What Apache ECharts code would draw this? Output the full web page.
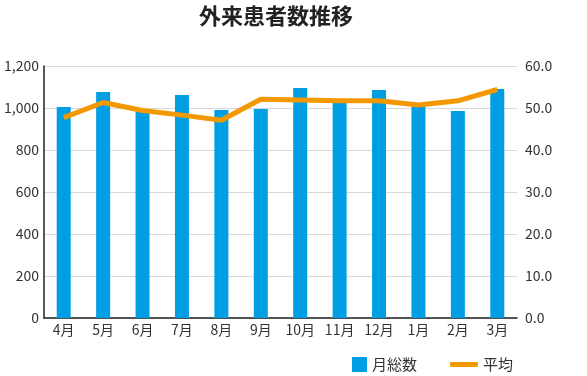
<!DOCTYPE html>
<html><head><meta charset="utf-8">
<script src="https://cdn.jsdelivr.net/npm/echarts@6/dist/echarts.min.js"></script>
<style>html,body{margin:0;padding:0;background:#fff}#c{width:587px;height:376px}</style>
</head><body><div id="c"></div>
<script>
const categories = ['4月','5月','6月','7月','8月','9月','10月','11月','12月','1月','2月','3月'];
const monthlyTotal = [1005, 1076, 985, 1062, 990, 995, 1095, 1025, 1086, 1014, 986, 1090];
const average = [47.7, 51.3, 49.4, 48.3, 47.1, 52.1, 51.9, 51.7, 51.7, 50.7, 51.7, 54.4];
const leftTicks = [0, 1200, 200];
const rightTicks = [0, 60, 10];

const font = '"Noto Sans CJK JP", "Noto Sans", sans-serif';
const chart = echarts.init(document.getElementById('c'));
chart.setOption({
  animation: false,
  textStyle: { fontFamily: font },
  title: { text: '外来患者数推移', left: 199, top: 5, padding: 0,
    textStyle: { fontSize: 22, fontWeight: 'bold', color: '#222', fontFamily: font } },
  legend: [
    { data: [{ name: '月総数', icon: 'rect' }], left: 352, top: 357, padding: 0, itemWidth: 15, itemHeight: 15, itemGap: 4,
      textStyle: { fontSize: 15, color: '#333', fontFamily: font } },
    { data: [{ name: '平均', icon: 'roundRect' }], left: 450, top: 357, padding: 0, itemWidth: 28, itemHeight: 5, itemGap: 2,
      textStyle: { fontSize: 15, color: '#333', fontFamily: font } }
  ],
  grid: { left: 44, right: 70, top: 66, bottom: 58, containLabel: false },
  xAxis: {
    type: 'category', data: categories,
    axisLine: { lineStyle: { color: '#222', width: 1.5 } },
    axisTick: { show: false },
    axisLabel: { fontSize: 14, color: '#333', margin: 5, fontFamily: font }
  },
  yAxis: [
    { type: 'value', min: leftTicks[0], max: leftTicks[1], interval: leftTicks[2],
      axisLine: { show: true, lineStyle: { color: '#222', width: 1.5 } },
      axisTick: { show: false },
      splitLine: { lineStyle: { color: '#d9d9d9' } },
      axisLabel: { fontSize: 14, color: '#333', margin: 5, fontFamily: font,
        formatter: v => v.toLocaleString('en-US') } },
    { type: 'value', min: rightTicks[0], max: rightTicks[1], interval: rightTicks[2],
      axisLine: { show: false }, axisTick: { show: false },
      splitLine: { show: false },
      axisLabel: { fontSize: 14, color: '#333', margin: 8, fontFamily: font,
        formatter: v => v.toFixed(1) } }
  ],
  series: [
    { name: '月総数', type: 'bar', data: monthlyTotal, barWidth: 14, yAxisIndex: 0,
      itemStyle: { color: '#009fe3' } },
    { name: '平均', type: 'line', data: average, yAxisIndex: 1, symbol: 'none',
      lineStyle: { color: '#f39800', width: 5 }, itemStyle: { color: '#f39800' } }
  ]
});
</script></body></html>
